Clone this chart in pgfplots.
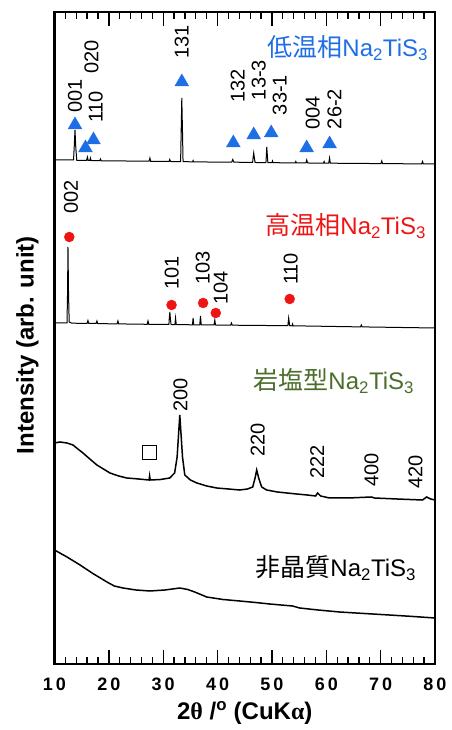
\documentclass[border=0pt]{standalone}
\usepackage{fontspec}
\setmainfont{Liberation Sans}
\newfontfamily\cjk{Noto Sans CJK JP}
\newfontfamily\serifgr{Liberation Serif}
\usepackage{pgfplots}
\pgfplotsset{compat=1.18}
\definecolor{lowblue}{RGB}{30,110,230}
\definecolor{hired}{RGB}{238,20,20}
\definecolor{rsgreen}{RGB}{75,110,45}
\newcommand{\pk}{\fontsize{20}{20}\selectfont}
\newcommand{\ttl}[1]{\fontsize{24}{24}\selectfont{\cjk\fontsize{25}{25}\selectfont #1}Na\textsubscript{2}TiS\textsubscript{3}}
\begin{document}
\begin{tikzpicture}
\path[use as bounding box] (-54.5pt,-66pt) rectangle (396.5pt,664pt);
\begin{axis}[
  width=380.5pt, height=652pt, scale only axis,
  xmin=10, xmax=80, ymin=-1, ymax=651,
  axis line style={line width=2.5pt},
  ytick=\empty,
  xtick={10,20,...,80},
  xticklabels={1\kern3pt0,2\kern3pt0,3\kern3pt0,4\kern3pt0,5\kern3pt0,6\kern3pt0,7\kern3pt0,8\kern3pt0},
  minor x tick num=4,
  tick align=inside,
  xtick pos=both,
  xticklabel pos=lower,
  major tick length=14pt, minor tick length=7pt,
  every tick/.style={black, line width=1.3pt},
  xticklabel style={font=\bfseries\fontsize{18}{18}\selectfont, anchor=center, yshift=-20pt},
  xlabel={2{\serifgr\bfseries θ}\ /\textsuperscript{o}\ (CuK{\serifgr α})},
  xlabel style={font=\bfseries\fontsize{24}{24}\selectfont, at={(axis description cs:0.5,0)}, anchor=center, yshift=-49pt},
  ylabel={Intensity (arb. unit)},
  ylabel style={font=\bfseries\fontsize{24}{24}\selectfont, at={(axis description cs:-0.071,0.489)}, anchor=center},
  every node/.style={inner sep=0pt},
]
% low-temperature phase
\addplot[black, line width=1pt, mark=none] coordinates {
(10,503) (13.5,503) (13.62,515) (13.77,533) (13.92,515) (14.1,502.5)
(15.9,502.5) (16.05,506) (16.2,502.5) (16.5,502.5) (16.6,505) (16.75,502.4)
(18.3,502.3) (18.45,504) (18.6,502.2) (27.4,501.8) (27.55,505) (27.7,501.7)
(31.1,501.6) (31.2,503.5) (31.35,501.5) (33.2,501.4) (33.3,530) (33.42,565) (33.55,530) (33.65,501.3)
(35.4,501.2) (35.5,502.5) (35.6,501.1) (42.6,500.8) (42.8,503.5) (43.0,500.8)
(46.45,500.6) (46.55,506) (46.65,510) (46.75,506) (46.9,500.5)
(48.9,500.4) (48.98,508) (49.05,516) (49.15,508) (49.25,500.4)
(50.0,500.3) (50.1,502) (50.2,500.3) (54.3,500.1) (54.4,501.5) (54.5,500.1)
(56.25,500) (56.4,503) (56.55,500) (59.5,499.9) (59.6,501.5) (59.7,499.9)
(60.45,499.8) (60.6,505) (60.75,499.8) (70.05,499.4) (70.2,502) (70.35,499.4)
(77.55,499.1) (77.7,501.5) (77.85,499.1) (80,499)
};
\addplot[only marks, mark=triangle*, mark size=8pt, color=lowblue] coordinates {
(13.77,538) (15.7,515) (17.17,523) (33.42,581) (42.9,520) (46.65,528) (49.87,530) (56.39,515) (60.61,519)
};
\node[rotate=90,font=\pk] at (axis cs:13.77,567) {001};
\node[rotate=90,font=\pk] at (axis cs:16.8,606) {020};
\node[rotate=90,font=\pk] at (axis cs:17.6,556) {110};
\node[rotate=90,font=\pk] at (axis cs:33.42,621) {131};
\node[rotate=90,font=\pk] at (axis cs:43.71,577) {132};
\node[rotate=90,font=\pk] at (axis cs:47.57,583) {13-3};
\node[rotate=90,font=\pk] at (axis cs:51.43,568) {33-1};
\node[rotate=90,font=\pk] at (axis cs:57.49,550) {004};
\node[rotate=90,font=\pk] at (axis cs:61.53,554) {26-2};
\node[anchor=base east, text=lowblue] at (axis cs:79.35,606) {\ttl{低温相}};
% high-temperature phase
\addplot[black, line width=1pt, mark=none] coordinates {
(10,340) (12.3,340) (12.4,370) (12.48,416) (12.58,370) (12.7,341) (13.2,339.8)
(16.0,339.6) (16.15,342.5) (16.3,339.6) (17.65,339.5) (17.8,342) (17.95,339.4)
(21.5,339.1) (21.67,342) (21.8,339.1) (27.05,338.7) (27.2,342) (27.35,338.7)
(31.05,338.5) (31.12,345) (31.22,351) (31.32,344) (31.45,338.4)
(32.15,338.4) (32.27,345) (32.4,338.4) (35.38,338.2) (35.5,345) (35.62,338.2)
(36.72,338.1) (36.86,347) (37.0,338.1) (39.35,338) (39.49,343) (39.62,338)
(42.4,337.8) (42.55,340) (42.7,337.8) (52.93,337.3) (53.0,341) (53.08,345) (53.18,341) (53.25,337.3)
(53.7,337.2) (53.8,339) (53.9,337.2) (66.3,336.1) (66.44,338) (66.6,336.1) (80,335)
};
\addplot[only marks, mark=*, mark size=5pt, color=hired] coordinates {
(12.72,426) (31.53,358) (37.34,360) (39.67,350) (53.27,364)
};
\node[rotate=90,font=\pk] at (axis cs:13.03,466) {002};
\node[rotate=90,font=\pk] at (axis cs:31.59,390) {101};
\node[rotate=90,font=\pk] at (axis cs:37.28,395) {103};
\node[rotate=90,font=\pk] at (axis cs:40.6,375) {104};
\node[rotate=90,font=\pk] at (axis cs:53.45,394) {110};
\node[anchor=base east, text=hired] at (axis cs:78.98,428) {\ttl{高温相}};
% rock-salt phase
\addplot[black, line width=1.5pt, mark=none] coordinates {
(10,220) (11.0,221) (12.3,220) (13.4,218) (14.3,214) (15.24,210) (16.5,204) (17.8,198) (19.0,194) (20.2,190)
(21.8,187) (23.3,185) (25.5,184) (27.4,183) (27.5,187) (27.6,183) (29.5,183.5) (31.2,185) (32.1,190) (32.56,206)
(33.05,248) (33.55,206) (33.97,188) (35.0,183) (36.2,180) (38.0,177) (39.85,175) (42.0,174) (44.08,173)
(45.5,174) (46.47,176) (46.9,185) (47.2,193) (47.56,185) (48.12,176) (49.03,173) (51.0,171) (54.55,169)
(56.5,168) (58.04,167) (58.4,170) (58.96,167) (60.6,165) (64.0,165) (68.3,166) (68.88,165) (73.0,164)
(77.7,163) (78.45,166) (79.2,164) (80,163)
};
\addplot[only marks, mark=square, mark size=7pt, black, line width=0.8pt] coordinates {(27.54,211)};
\node[rotate=90,font=\pk] at (axis cs:33.2,268) {200};
\node[rotate=90,font=\pk] at (axis cs:47.4,223) {220};
\node[rotate=90,font=\pk] at (axis cs:58.3,201) {222};
\node[rotate=90,font=\pk] at (axis cs:68.3,193) {400};
\node[rotate=90,font=\pk] at (axis cs:76.4,191) {420};
\node[anchor=base east, text=rsgreen] at (axis cs:76.78,273) {\ttl{岩塩型}};
% amorphous
\addplot[black, line width=1.5pt, mark=none] coordinates {
(10,113) (12.3,106) (14.7,98) (17.2,89) (19.65,81) (21.0,77) (22.6,75) (25.0,73) (27.55,72) (30.3,73)
(33.06,75) (34.5,73.5) (35.8,71) (38.0,66) (41.0,63.5) (44.08,62) (47.0,60.5) (49.6,59) (53.8,57)
(55.1,55) (58.5,53) (62.45,51) (67.0,49.5) (71.6,48) (76.0,46.5) (80,45)
};
\node[anchor=base east, text=black] at (axis cs:77.15,86) {\ttl{非晶質}};
\end{axis}
\end{tikzpicture}
\end{document}
